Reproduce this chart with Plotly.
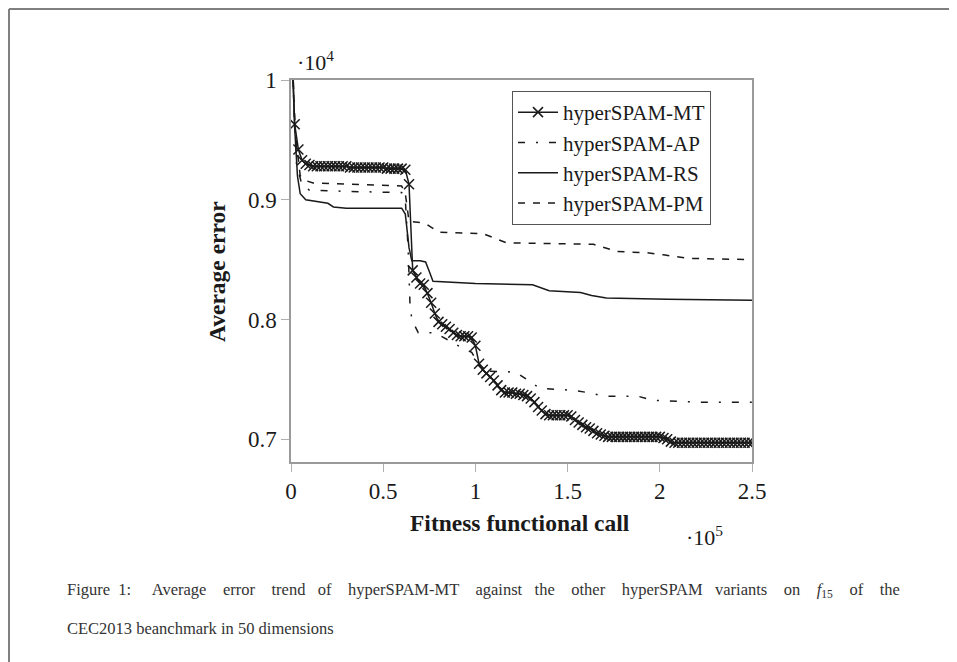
import plotly.graph_objects as go

# ---------------- data (x in 1e5 calls, y in 1e4) ----------------
MT_X = [0.00, 0.02, 0.04, 0.06, 0.08, 0.10, 0.12, 0.14, 0.16, 0.18, 0.20, 0.22, 0.24, 0.26, 0.28, 0.30,
        0.32, 0.34, 0.36, 0.38, 0.40, 0.42, 0.44, 0.46, 0.48, 0.50, 0.52, 0.54, 0.56, 0.58, 0.60, 0.62,
        0.64, 0.66, 0.68, 0.70, 0.72, 0.74, 0.76, 0.78, 0.80, 0.82, 0.84, 0.86, 0.88, 0.90, 0.92, 0.94,
        0.96, 0.98, 1.00, 1.02, 1.04, 1.06, 1.08, 1.10, 1.12, 1.14, 1.16, 1.18, 1.20, 1.22, 1.24, 1.26,
        1.28, 1.30, 1.32, 1.34, 1.36, 1.38, 1.40, 1.42, 1.44, 1.46, 1.48, 1.50, 1.52, 1.54, 1.56, 1.58,
        1.60, 1.62, 1.64, 1.66, 1.68, 1.70, 1.72, 1.74, 1.76, 1.78, 1.80, 1.82, 1.84, 1.86, 1.88, 1.90,
        1.92, 1.94, 1.96, 1.98, 2.00, 2.02, 2.04, 2.06, 2.08, 2.10, 2.12, 2.14, 2.16, 2.18, 2.20, 2.22,
        2.24, 2.26, 2.28, 2.30, 2.32, 2.34, 2.36, 2.38, 2.40, 2.42, 2.44, 2.46, 2.48, 2.50]
MT_Y = [1.050, 0.963, 0.942, 0.933, 0.930, 0.929, 0.928, 0.928, 0.928, 0.928, 0.928, 0.928, 0.928, 0.928,
        0.928, 0.928, 0.927, 0.927, 0.927, 0.927, 0.927, 0.927, 0.927, 0.927, 0.927, 0.927, 0.926, 0.926,
        0.926, 0.926, 0.926, 0.925, 0.913, 0.841, 0.835, 0.830, 0.829, 0.822, 0.814, 0.805, 0.798, 0.796,
        0.794, 0.792, 0.789, 0.787, 0.786, 0.786, 0.786, 0.785, 0.778, 0.763, 0.758, 0.755, 0.752, 0.749,
        0.745, 0.741, 0.739, 0.739, 0.739, 0.738, 0.738, 0.737, 0.736, 0.734, 0.731, 0.727, 0.724, 0.721,
        0.720, 0.720, 0.720, 0.720, 0.720, 0.720, 0.719, 0.716, 0.714, 0.712, 0.710, 0.709, 0.707, 0.705,
        0.704, 0.703, 0.702, 0.702, 0.702, 0.702, 0.702, 0.702, 0.702, 0.702, 0.702, 0.702, 0.702, 0.702,
        0.702, 0.702, 0.702, 0.701, 0.700, 0.698, 0.697, 0.697, 0.697, 0.697, 0.697, 0.697, 0.697, 0.697,
        0.697, 0.697, 0.697, 0.697, 0.697, 0.697, 0.697, 0.697, 0.697, 0.697, 0.697, 0.697, 0.697, 0.697]

AP_X = [0.00, 0.03, 0.06, 0.10, 0.30, 0.60, 0.62, 0.635, 0.645, 0.655, 0.69, 0.78, 0.92, 0.98, 1.03,
        1.06, 1.22, 1.29, 1.35, 1.52, 1.61, 1.70, 1.88, 1.96, 2.20, 2.50]
AP_Y = [1.050, 0.930, 0.912, 0.908, 0.907, 0.906, 0.900, 0.860, 0.814, 0.800, 0.789, 0.789, 0.777, 0.7725,
        0.760, 0.757, 0.756, 0.749, 0.7425, 0.741, 0.739, 0.736, 0.736, 0.7325, 0.731, 0.731]

RS_X = [0.00, 0.02, 0.035, 0.05, 0.08, 0.15, 0.20, 0.23, 0.30, 0.60, 0.62, 0.64, 0.655, 0.70, 0.73,
        0.75, 0.77, 1.00, 1.31, 1.40, 1.57, 1.63, 1.71, 2.04, 2.50]
RS_Y = [1.050, 0.960, 0.920, 0.905, 0.900, 0.898, 0.897, 0.894, 0.893, 0.893, 0.888, 0.860, 0.849, 0.849,
        0.848, 0.840, 0.832, 0.830, 0.829, 0.824, 0.8225, 0.820, 0.818, 0.817, 0.816]

PM_X = [0.00, 0.02, 0.05, 0.08, 0.12, 0.60, 0.62, 0.64, 0.70, 0.74, 0.80, 1.04, 1.17, 1.64, 1.77, 1.93,
        2.02, 2.16, 2.50]
PM_Y = [1.050, 0.960, 0.920, 0.916, 0.914, 0.9115, 0.905, 0.882, 0.881, 0.879, 0.873, 0.8717, 0.864,
        0.8628, 0.8567, 0.8558, 0.854, 0.851, 0.850]

X_TICKS = [0, 0.5, 1, 1.5, 2, 2.5]
X_TICK_TEXT = ["0", "0.5", "1", "1.5", "2", "2.5"]
Y_TICKS = [0.7, 0.8, 0.9, 1.0]
Y_TICK_TEXT = ["0.7", "0.8", "0.9", "1"]

NAMES = ["hyperSPAM-MT", "hyperSPAM-AP", "hyperSPAM-RS", "hyperSPAM-PM"]

CAPTION_1 = ["Figure", "1:", "Average", "error", "trend", "of", "hyperSPAM-MT", "against", "the",
             "other", "hyperSPAM", "variants", "on", "<i>f</i><sub>15</sub>", "of", "the"]
CAPTION_2 = "CEC2013 beanchmark in 50 dimensions"

# ---------------- figure ----------------
OFF = 8                       # page offset of the plot div (body margin)
W, H = 949, 654
L, R, T, B = 283, 205, 72, 200
PW, PH = W - L - R, H - T - B
SERIF = "Liberation Serif, Times New Roman, serif"
INK = "#1a1a1a"


def px(xp):
    """page pixel x -> paper x"""
    return (xp - OFF - L) / PW


def py(yp):
    """page pixel y -> paper y"""
    return (H - B - (yp - OFF)) / PH


fig = go.Figure()
fig.add_trace(go.Scatter(x=MT_X, y=MT_Y, name=NAMES[0], mode="lines+markers",
                         line=dict(color=INK, width=1.5),
                         marker=dict(symbol="x-thin", size=10, color=INK, line=dict(width=1.5, color=INK))))
fig.add_trace(go.Scatter(x=AP_X, y=AP_Y, name=NAMES[1], mode="lines",
                         line=dict(color=INK, width=1.5, dash="7px,11px,2px,11px")))
fig.add_trace(go.Scatter(x=RS_X, y=RS_Y, name=NAMES[2], mode="lines",
                         line=dict(color=INK, width=1.5)))
fig.add_trace(go.Scatter(x=PM_X, y=PM_Y, name=NAMES[3], mode="lines",
                         line=dict(color=INK, width=1.5, dash="7px,8px")))

axis_common = dict(showgrid=False, zeroline=False, showline=True, linecolor="#9a9a9a", linewidth=1.5,
                   mirror=True, ticks="outside", ticklen=8, tickwidth=1, tickcolor="#b0b0b0",
                   tickfont=dict(family=SERIF, size=23, color=INK))

fig.update_xaxes(range=[0, 2.5], tickvals=X_TICKS, ticktext=X_TICK_TEXT, **axis_common)
fig.update_yaxes(range=[0.681, 1.0], tickvals=Y_TICKS, ticktext=Y_TICK_TEXT, **axis_common)

# justified first caption line: number of extra non-breaking spaces after each word
GAPS = [1, 4, 3, 3, 2, 3, 3, 2, 3, 3, 2, 3, 3, 3, 3]
line1 = CAPTION_1[0]
for word, g in zip(CAPTION_1[1:], GAPS):
    line1 += " " + "&nbsp;" * g + word

cap_font = dict(family=SERIF, size=16.5, color="#333333")
annotations = [
    dict(text="·10<sup>4</sup>", x=px(295), y=py(61), xanchor="left", yanchor="middle",
         font=dict(family=SERIF, size=22, color=INK)),
    dict(text="·10<sup>5</sup>", x=px(684), y=py(536), xanchor="left", yanchor="middle",
         font=dict(family=SERIF, size=22, color=INK)),
    dict(text="<b>Fitness functional call</b>", x=px(520), y=py(523), xanchor="center", yanchor="middle",
         font=dict(family=SERIF, size=23.5, color=INK)),
    dict(text="<b>Average error</b>", x=px(217), y=py(272), xanchor="center", yanchor="middle",
         textangle=-90, font=dict(family=SERIF, size=23.5, color=INK)),
    dict(text=line1, x=px(65), y=py(590), xanchor="left", yanchor="middle", font=cap_font),
    dict(text=CAPTION_2, x=px(65), y=py(628), xanchor="left", yanchor="middle", font=cap_font),
]
for a in annotations:
    a.update(xref="paper", yref="paper", showarrow=False)

shapes = [
    dict(type="line", xref="paper", yref="paper", x0=px(9), x1=px(957), y0=py(9), y1=py(9),
         line=dict(color="#808080", width=2)),
    dict(type="line", xref="paper", yref="paper", x0=px(9), x1=px(9), y0=py(9), y1=py(662),
         line=dict(color="#808080", width=2)),
]

fig.update_layout(
    width=W, height=H, autosize=False,
    margin=dict(l=L, r=R, t=T, b=B),
    paper_bgcolor="white", plot_bgcolor="white",
    font=dict(family=SERIF, color=INK),
    showlegend=True,
    legend=dict(x=px(512), y=py(91), xanchor="left", yanchor="top",
                bgcolor="white", bordercolor="#555555", borderwidth=1,
                font=dict(family=SERIF, size=21, color=INK),
                tracegroupgap=0, itemwidth=40),
    annotations=annotations,
    shapes=shapes,
)

fig.write_html("out.html")
